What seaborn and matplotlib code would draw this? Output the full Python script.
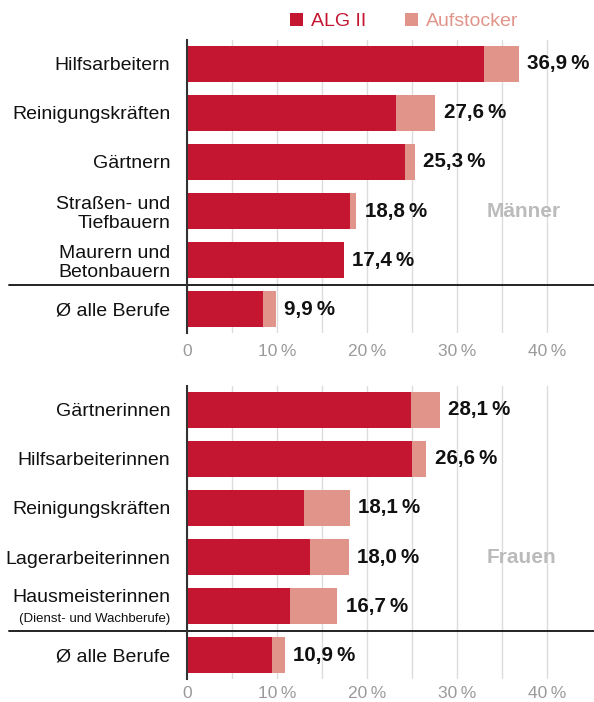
import matplotlib
matplotlib.use("Agg")
import matplotlib.pyplot as plt
from matplotlib.patches import Patch
import seaborn as sns

# data (percent)
men_jobs = ["Hilfsarbeitern", "Reinigungskräften", "Gärtnern",
            "Straßen- und\nTiefbauern", "Maurern und\nBetonbauern", "Ø alle Berufe"]
men_total = [36.9, 27.6, 25.3, 18.8, 17.4, 9.9]
men_alg2 = [33.0, 23.2, 24.2, 18.1, 17.4, 8.4]

women_jobs = ["Gärtnerinnen", "Hilfsarbeiterinnen", "Reinigungskräften",
              "Lagerarbeiterinnen", "Hausmeisterinnen", "Ø alle Berufe"]
women_total = [28.1, 26.6, 18.1, 18.0, 16.7, 10.9]
women_alg2 = [24.9, 25.0, 13.0, 13.7, 11.4, 9.5]

x_ticks = [0, 10, 20, 30, 40]
x_ticklabels = ["0", "10\u2009%", "20\u2009%", "30\u2009%", "40\u2009%"]

RED = "#C41631"
LIGHT = "#E1958A"
GRID = "#DCDCDC"
FONTS = ["Liberation Sans", "DejaVu Sans"]


def fmt(v):
    return "{:.1f}".format(v).replace(".", ",") + "\u2009%"


def draw_panel(ax, jobs, alg2, total, group, xpad):
    sns.barplot(x=total, y=jobs, color=LIGHT, saturation=1, width=0.73,
                errorbar=None, ax=ax)
    sns.barplot(x=alg2, y=jobs, color=RED, saturation=1, width=0.73,
                errorbar=None, ax=ax)
    for bar in ax.patches:
        bar.set_linewidth(0)

    ax.bar_label(ax.containers[0], labels=[fmt(v) for v in total], padding=6,
                 fontsize=14.8, fontweight="bold", color="#111111")

    ax.set_xlim(0, 45)
    ax.set_ylim(5.48, -0.48)
    ax.set_xticks(x_ticks)
    ax.set_xticklabels(x_ticklabels)
    ax.set_xticks([5, 15, 25, 35], minor=True)
    ax.grid(axis="x", which="both", color=GRID, lw=1)
    ax.set_axisbelow(True)
    ax.set_xlabel("")
    ax.set_ylabel("")

    ax.tick_params(axis="x", which="both", length=0, pad=xpad, labelsize=12.5,
                   labelcolor="#9A9A9A")
    ax.tick_params(axis="y", length=0, pad=12, labelsize=14, labelcolor="#111111")
    for lab in ax.get_yticklabels():
        lab.set_linespacing(1.15)

    for side in ["top", "right", "bottom"]:
        ax.spines[side].set_visible(False)
    ax.spines["left"].set_color("#333333")
    ax.spines["left"].set_linewidth(1.5)

    # separator above the average row
    ax.axhline(4.5, xmin=-0.44, xmax=1.01, color="#222222", lw=1.4, clip_on=False)

    ax.text(33.3, 3, group, fontsize=15, fontweight="bold", color="#BBBBBB",
            va="center", ha="left")


sns.set_theme(style="white")
plt.rcParams["font.family"] = FONTS

fig = plt.figure(figsize=(5.94, 7.02), dpi=100)
ax_m = fig.add_axes([0.3148, 0.5256, 0.6818, 0.4174])
ax_w = fig.add_axes([0.3148, 0.0328, 0.6818, 0.4174])

draw_panel(ax_m, men_jobs, men_alg2, men_total, "Männer", 8)
draw_panel(ax_w, women_jobs, women_alg2, women_total, "Frauen", 5)

# Hausmeisterinnen gets a small second line
labs = ax_w.get_yticklabels()
labs[4].set_text("")
ax_w.set_yticklabels(labs)
ax_w.annotate("Hausmeisterinnen", xy=(0, 4), xycoords=("axes fraction", "data"),
              xytext=(-12, 6), textcoords="offset points", ha="right", va="center",
              fontsize=14, color="#111111")
ax_w.annotate("(Dienst- und Wachberufe)", xy=(0, 4), xycoords=("axes fraction", "data"),
              xytext=(-12, -9.5), textcoords="offset points", ha="right", va="center",
              fontsize=9.5, color="#111111")

handles = [Patch(facecolor=RED, edgecolor="none"), Patch(facecolor=LIGHT, edgecolor="none")]
leg = fig.legend(handles, ["ALG II", "Aufstocker"], loc="center",
                 bbox_to_anchor=(0.681, 0.969), ncol=2, frameon=False,
                 fontsize=14, handlelength=0.67, handleheight=0.67,
                 handletextpad=0.4, columnspacing=2.0, borderpad=0)
for txt, c in zip(leg.get_texts(), [RED, LIGHT]):
    txt.set_color(c)

fig.savefig("out.png", dpi=100)
